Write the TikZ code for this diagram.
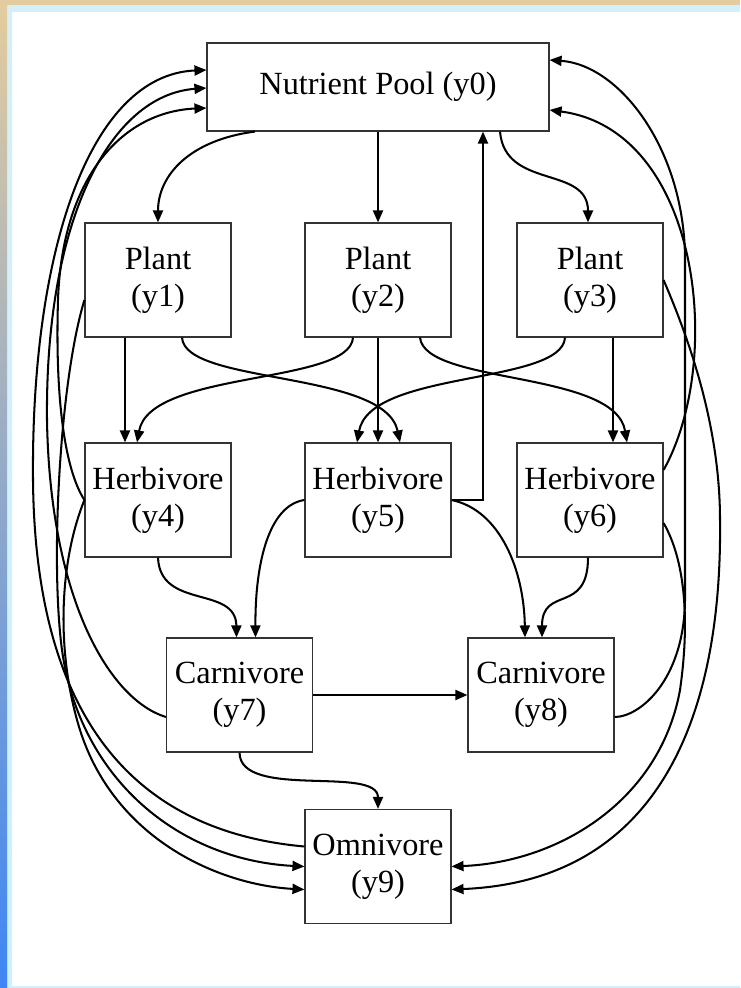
\documentclass[tikz,border=0pt]{standalone}
\usepackage{fontspec}
\setmainfont{Liberation Serif}
\usetikzlibrary{arrows.meta,calc}
\definecolor{frametan}{HTML}{E3CC9F}
\definecolor{framesky}{HTML}{D2F0FC}
\definecolor{framelav}{HTML}{B8B4D2}
\definecolor{frameblue}{HTML}{3E86F4}

\begin{document}
\begin{tikzpicture}[x=0.25mm,y=-0.25mm,
  every node/.style={font=\fontsize{23}{26}\selectfont},
  box/.style={rectangle,draw=black!80,line width=0.8pt,fill=white,minimum width=36.5mm,minimum height=28.5mm,align=center,inner sep=0pt},
  pool/.style={box,minimum width=85.5mm,minimum height=22mm},
  arrow/.style={-{Triangle[length=3mm,width=2.5mm]},line width=1.45pt}
]

% frame
\fill[framesky] (0,0) rectangle (740,988);
\fill[white] (12,12) rectangle (740,986);
\fill[frametan] (0,0) rectangle (740,5);
\shade[top color=frametan,middle color=framelav,bottom color=frameblue] (0,5) rectangle (7,988);
\useasboundingbox (0,0) rectangle (740,988);

\node[pool] (y0) at (378,87) {Nutrient Pool (y0)};
\node[box] (y1) at (158,280) {Plant\\(y1)};
\node[box] (y2) at (378,280) {Plant\\(y2)};
\node[box] (y3) at (590,280) {Plant\\(y3)};
\node[box] (y4) at (158,500) {Herbivore\\(y4)};
\node[box] (y5) at (378,500) {Herbivore\\(y5)};
\node[box] (y6) at (590,500) {Herbivore\\(y6)};
\node[box] (y7) at (239.5,695) {Carnivore\\(y7)};
\node[box] (y8) at (541,695) {Carnivore\\(y8)};
\node[box] (y9) at (378,866.5) {Omnivore\\(y9)};

% pool to plants
\draw[arrow] ($(y0.south)+(-123,0)$) .. controls (190,140) and (158,175) .. (y1.north);
\draw[arrow] (y0) -- (y2);
\draw[arrow] ($(y0.south)+(122,0)$) .. controls (505,190) and (588,165) .. ($(y3.north)+(-2,0)$);

% plants to herbivores
\draw[arrow] ($(y1.south)+(-33,0)$) -- ($(y4.north)+(-33,0)$);
\draw[arrow] ($(y1.south)+(24,0)$) .. controls (185,385) and (385,370) .. ($(y5.north)+(22,0)$);
\draw[arrow] ($(y2.south)+(-25,0)$) .. controls (350,385) and (150,370) .. ($(y4.north)+(-21,0)$);
\draw[arrow] (y2) -- (y5);
\draw[arrow] ($(y2.south)+(42,0)$) .. controls (425,385) and (615,370) .. ($(y6.north)+(37,0)$);
\draw[arrow] ($(y3.south)+(-25,0)$) .. controls (562,385) and (370,370) .. ($(y5.north)+(-21,0)$);
\draw[arrow] ($(y3.south)+(23,0)$) -- ($(y6.north)+(23,0)$);

% herbivores to carnivores
\draw[arrow] (y4.south) .. controls (160,610) and (236,585) .. ($(y7.north)+(-3,0)$);
\draw[arrow] (y5.west) .. controls (270,505) and (255,560) .. ($(y7.north)+(16,0)$);
\draw[arrow] (y5.east) .. controls (500,510) and (524,570) .. ($(y8.north)+(-16,0)$);
\draw[arrow] ($(y6.south)+(-2,0)$) .. controls (588,615) and (542,585) .. ($(y8.north)+(1,0)$);
\draw[arrow] (y7) -- (y8);
\draw[arrow] (y7.south) .. controls (240,800) and (378,765) .. (y9.north);
\draw[arrow] (y5.east) -| ($(y0.south)+(105,0)$);

% returns on the left
\draw[arrow] ($(y9.west)+(0,-20)$) .. controls (120,830) and (35,700) .. (33,480) .. controls (31,250) and (90,75) .. ($(y0.west)+(0,-17)$);
\draw[arrow] ($(y7.west)+(0,22)$) .. controls (110,700) and (50,600) .. (47,420) .. controls (45,220) and (110,95) .. ($(y0.west)+(0,1)$);
\draw[arrow] (y4.west) .. controls (65,470) and (55,400) .. (58,300) .. controls (62,180) and (120,112) .. ($(y0.west)+(0,21)$);
\draw[arrow] ($(y1.west)+(0,20)$) .. controls (60,380) and (50,560) .. (62,650) .. controls (80,780) and (180,860) .. (y9.west);
\draw[arrow] (y4.west) .. controls (60,560) and (55,650) .. (80,730) .. controls (115,840) and (220,885) .. ($(y9.west)+(0,23)$);

% returns on the right
\draw[arrow] ($(y8.east)+(0,22)$) .. controls (640,717) and (684,680) .. (685,600) -- (685,260) .. controls (685,150) and (620,65) .. ($(y0.east)+(0,-27)$);
\draw[arrow] ($(y6.east)+(0,-30)$) .. controls (725,360) and (700,130) .. ($(y0.east)+(0,23)$);
\draw[arrow] (y3.east) .. controls (685,330) and (720,420) .. (720,520) .. controls (722,680) and (680,880) .. ($(y9.east)+(0,23)$);
\draw[arrow] ($(y6.east)+(0,23)$) .. controls (685,560) and (690,620) .. (680,690) .. controls (660,800) and (560,862) .. (y9.east);
\end{tikzpicture}
\end{document}
